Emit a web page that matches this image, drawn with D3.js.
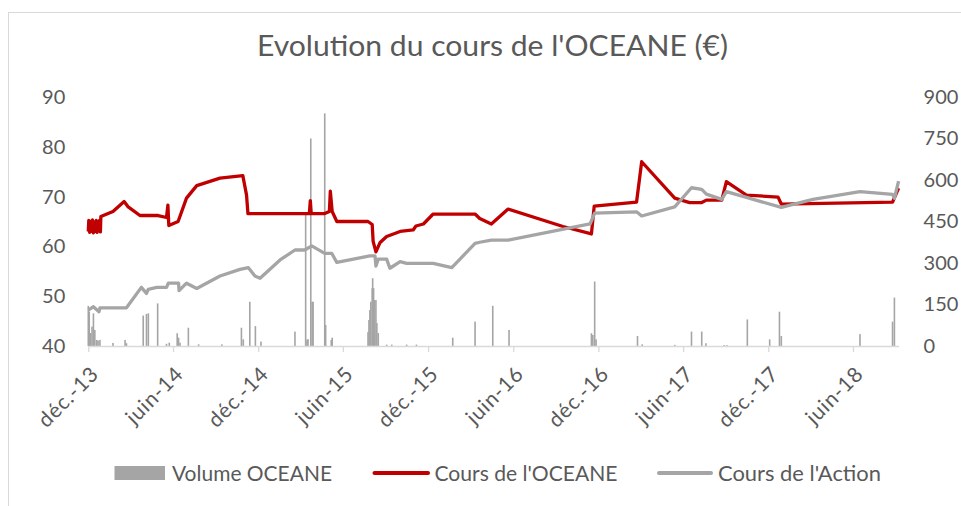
<!DOCTYPE html>
<html><head><meta charset="utf-8">
<script src="https://cdn.jsdelivr.net/npm/d3@7"></script>
<style>body{margin:0;background:#fff}svg{display:block}text{font-family:Lato,"Open Sans",sans-serif;fill:#595959}</style>
</head><body>
<script>
// ---------- DATA ----------
const titleText = "Evolution du cours de l'OCEANE (€)";
const seriesNames = ["Volume OCEANE", "Cours de l'OCEANE", "Cours de l'Action"];
const xTickDates = ["2013-12-01","2014-06-01","2014-12-01","2015-06-01","2015-12-01","2016-06-01","2016-12-01","2017-06-01","2017-12-01","2018-06-01"];
const xTickLabels = ["déc.-13","juin-14","déc.-14","juin-15","déc.-15","juin-16","déc.-16","juin-17","déc.-17","juin-18"];
const leftTicks = [40,50,60,70,80,90];
const rightTicks = [0,150,300,450,600,750,900];

const oceaneDates = ["2013-12-01","2013-12-02","2013-12-04","2013-12-06","2013-12-08","2013-12-10","2013-12-12","2013-12-14","2013-12-16","2013-12-18","2013-12-20","2013-12-22","2013-12-24","2013-12-26","2013-12-27","2013-12-28",
"2014-01-23","2014-02-16","2014-02-24","2014-03-22","2014-04-30","2014-05-18","2014-05-21","2014-05-23","2014-06-12","2014-06-30","2014-07-22","2014-09-10","2014-10-29","2014-11-06","2014-11-09",
"2015-03-21","2015-03-23","2015-03-25","2015-04-23","2015-05-03","2015-05-05","2015-05-09","2015-05-19","2015-07-25","2015-08-03","2015-08-05","2015-08-11","2015-08-20","2015-09-03","2015-10-02","2015-10-30","2015-11-05","2015-11-21","2015-12-12",
"2016-03-11","2016-03-21","2016-04-15","2016-05-21","2016-09-16","2016-11-16","2016-11-22","2017-02-21","2017-03-04","2017-05-14","2017-06-15","2017-07-11","2017-07-21","2017-08-23","2017-09-02","2017-10-15","2017-12-22","2017-12-29","2018-08-25","2018-09-07"];
const oceaneValues = [63.0,65.2,62.8,65.0,63.0,65.3,62.7,64.8,63.0,65.2,62.8,65.0,63.2,65.3,62.9,66.0,
67.0,69.0,68.0,66.2,66.2,65.8,68.3,64.2,65.0,69.7,72.2,73.7,74.2,70.3,66.6,
66.6,69.2,66.6,66.6,67.0,71.1,67.0,65.0,65.0,64.4,61.0,58.9,60.8,62.0,63.0,63.3,64.1,64.5,66.5,
66.5,65.6,64.5,67.5,64.0,62.5,68.1,68.9,77.0,69.7,68.8,68.8,69.3,69.3,73.0,70.3,69.9,68.5,68.9,71.7];

const actionDates = ["2013-12-01","2013-12-12","2013-12-24","2013-12-26","2014-02-21","2014-03-25","2014-04-05","2014-04-09","2014-04-27","2014-05-18","2014-05-22","2014-06-13","2014-06-14","2014-06-30","2014-07-22","2014-09-10","2014-10-23","2014-11-10","2014-11-24","2014-12-05",
"2015-01-17","2015-02-18","2015-03-11","2015-03-26","2015-04-23","2015-05-08","2015-05-19","2015-07-29","2015-08-09","2015-08-11","2015-08-16","2015-09-03","2015-09-10","2015-10-02","2015-10-16","2015-12-12",
"2016-01-21","2016-03-11","2016-03-21","2016-04-15","2016-05-21","2016-11-13","2016-11-23","2017-02-21","2017-03-04","2017-05-14","2017-06-19","2017-07-11","2017-07-21","2017-08-23","2017-09-02","2017-10-15","2017-12-29","2018-03-07","2018-06-16","2018-08-25","2018-08-29","2018-09-07"];
const actionValues = [130,142,124,138,138,212,190,205,212,212,227,227,200,227,208,253,277,283,253,245,
311,347,347,362,335,335,302,326,326,289,314,314,281,305,299,299,
283,371,375,383,383,441,480,485,470,503,572,566,549,530,558,537,501,530,558,548,534,596];

const volumeDates = ["2013-12-01","2013-12-03","2013-12-06","2013-12-09","2013-12-12","2013-12-15","2013-12-19","2013-12-22","2013-12-26","2014-01-23","2014-02-18","2014-02-21","2014-03-29","2014-04-05","2014-04-09","2014-04-29","2014-05-18","2014-05-24","2014-06-10","2014-06-13","2014-06-16","2014-07-04","2014-07-26","2014-09-14","2014-10-26","2014-10-30","2014-11-13","2014-11-25","2014-12-07",
"2015-02-18","2015-03-13","2015-03-16","2015-03-18","2015-03-24","2015-03-27","2015-03-29","2015-04-23","2015-04-25","2015-05-07","2015-05-09",
"2015-07-25","2015-07-27","2015-07-29","2015-07-31","2015-08-03","2015-08-04","2015-08-06","2015-08-08","2015-08-11","2015-08-13","2015-08-16",
"2015-09-03","2015-09-14","2015-10-16","2015-11-06","2016-01-23","2016-03-11","2016-04-18","2016-05-23","2016-11-16","2016-11-19","2016-11-23","2016-11-26",
"2017-02-23","2017-03-05","2017-05-14","2017-06-19","2017-07-11","2017-07-20","2017-08-28","2017-09-03","2017-10-17","2017-12-04","2017-12-25","2017-12-29","2018-06-16","2018-08-25","2018-08-29"];
const volumeValues = [145,124,47,70,118,58,22,20,22,11,22,10,110,116,118,154,8,12,46,30,12,66,6,6,66,24,160,72,16,
52,475,22,25,750,160,160,841,76,22,30,
50,94,130,160,209,245,209,166,166,83,47,
5,5,5,5,30,88,145,58,46,40,233,24,
36,6,4,52,52,10,3,3,96,24,124,36,43,88,175];

// ---------- CHART ----------
const W = 961, H = 506;
const parse = d3.utcParse("%Y-%m-%d");
const svg = d3.select("body").append("svg").attr("width", W).attr("height", H);
svg.append("rect").attr("width", W).attr("height", H).attr("fill", "#fff");

// chart frame
svg.append("line").attr("x1", 8).attr("x2", W).attr("y1", 12.5).attr("y2", 12.5).attr("stroke", "#d9d9d9");
svg.append("line").attr("x1", 8.5).attr("x2", 8.5).attr("y1", 12).attr("y2", H).attr("stroke", "#d9d9d9");

const plot = {left: 88.3, right: 898.6, top: 97, bottom: 346};
const x = d3.scaleUtc().domain([parse("2013-12-01"), parse("2018-09-07")]).range([plot.left, plot.right]);
const yL = d3.scaleLinear().domain([40, 90]).range([plot.bottom, plot.top]);
const yR = d3.scaleLinear().domain([0, 900]).range([plot.bottom, plot.top]);

function fit(sel, w) { sel.attr("textLength", w).attr("lengthAdjust", "spacingAndGlyphs"); }

// title
svg.append("text").attr("x", 492.5).attr("y", 55.5).attr("text-anchor", "middle")
  .style("font-size", "28px").text(titleText).call(fit, 471);

// volume bars
const vol = volumeDates.map((d, i) => ({d: parse(d), v: volumeValues[i]}));
svg.append("g").selectAll("rect").data(vol).join("rect")
  .attr("x", d => x(d.d) - 0.8).attr("width", 1.6)
  .attr("y", d => yR(d.v)).attr("height", d => yR(0) - yR(d.v))
  .attr("fill", "#a5a5a5");

// x axis
const xAxis = d3.axisBottom(x).tickValues(xTickDates.map(parse))
  .tickFormat((d, i) => xTickLabels[i]).tickSizeInner(6).tickSizeOuter(0).tickPadding(4);
const gx = svg.append("g").attr("transform", `translate(0,${plot.bottom})`).call(xAxis);
gx.select(".domain").attr("stroke", "#d9d9d9").attr("stroke-width", 1.3);
gx.selectAll(".tick line").attr("stroke", "#d9d9d9").attr("stroke-width", 1.3);
gx.selectAll(".tick text").attr("fill", "#595959").style("font-size", "21px").style("font-family", "Lato")
  .style("letter-spacing", "0.8px")
  .attr("text-anchor", "end").attr("dy", "0.35em")
  .attr("transform", "translate(6,24) rotate(-45)").attr("x", 0).attr("y", 0);

// left axis
const gl = svg.append("g").attr("transform", `translate(${plot.left},0)`)
  .call(d3.axisLeft(yL).tickValues(leftTicks).tickSize(0).tickPadding(23));
gl.select(".domain").remove();
gl.selectAll(".tick text").attr("fill", "#595959").style("font-size", "20px").style("font-family", "Lato");

// right axis
const gr = svg.append("g").attr("transform", `translate(${plot.right},0)`)
  .call(d3.axisRight(yR).tickValues(rightTicks).tickSize(0).tickPadding(25));
gr.select(".domain").remove();
gr.selectAll(".tick text").attr("fill", "#595959").style("font-size", "20px").style("font-family", "Lato");

// lines
const oce = oceaneDates.map((d, i) => ({d: parse(d), v: oceaneValues[i]}));
const act = actionDates.map((d, i) => ({d: parse(d), v: actionValues[i]}));
svg.append("path").datum(oce).attr("fill", "none").attr("stroke", "#c00000").attr("stroke-width", 3.3)
  .attr("stroke-linejoin", "round").attr("d", d3.line().x(d => x(d.d)).y(d => yL(d.v)));
svg.append("path").datum(act).attr("fill", "none").attr("stroke", "#a5a5a5").attr("stroke-width", 3.3)
  .attr("stroke-linejoin", "round").attr("d", d3.line().x(d => x(d.d)).y(d => yR(d.v)));

// legend
const lg = svg.append("g");
const ly = 473;
lg.append("rect").attr("x", 114.5).attr("y", ly - 7).attr("width", 50.5).attr("height", 14).attr("fill", "#a5a5a5");
lg.append("text").attr("x", 172).attr("y", ly + 7.5).style("font-size", "21px").text(seriesNames[0]).call(fit, 160);
lg.append("line").attr("x1", 374.5).attr("x2", 428).attr("y1", ly).attr("y2", ly).attr("stroke", "#c00000").attr("stroke-width", 4).attr("stroke-linecap", "round");
lg.append("text").attr("x", 434.5).attr("y", ly + 7.5).style("font-size", "21px").text(seriesNames[1]).call(fit, 183);
lg.append("line").attr("x1", 659).attr("x2", 711).attr("y1", ly).attr("y2", ly).attr("stroke", "#a5a5a5").attr("stroke-width", 4).attr("stroke-linecap", "round");
lg.append("text").attr("x", 718).attr("y", ly + 7.5).style("font-size", "21px").text(seriesNames[2]).call(fit, 163);
</script>
</body></html>
